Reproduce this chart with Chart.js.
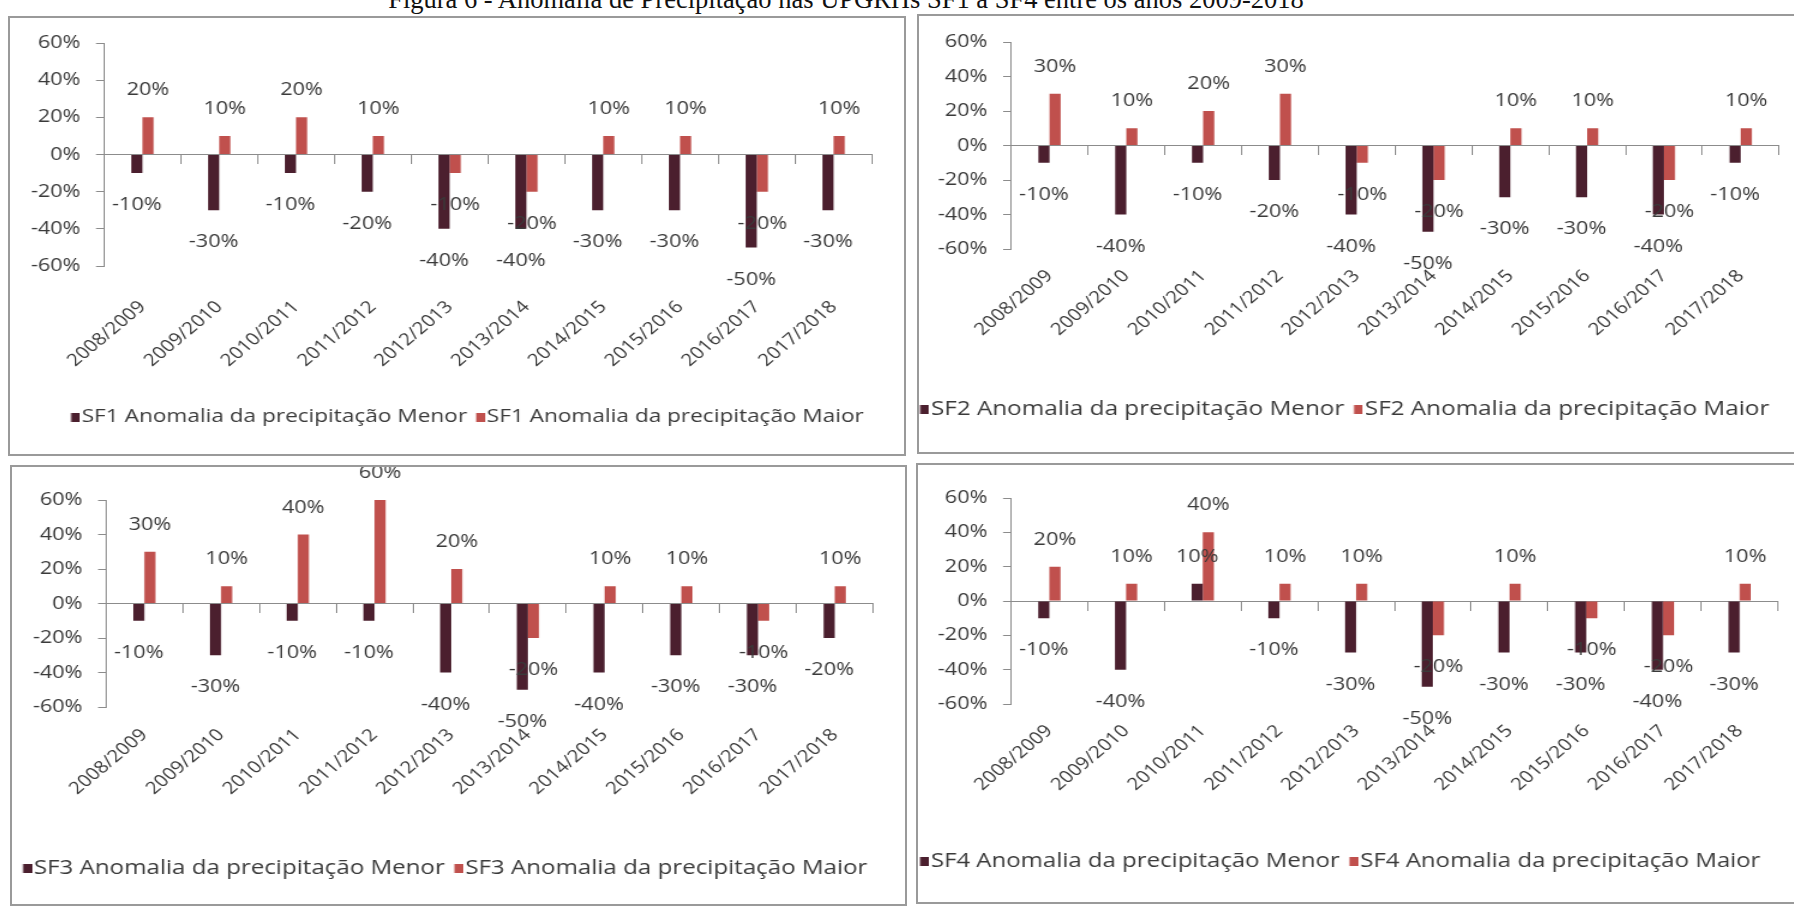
<!DOCTYPE html>
<html lang="pt">
<head>
<meta charset="utf-8">
<title>Anomalia de Precipitação SF1 a SF4</title>
<script src="https://cdn.jsdelivr.net/npm/chart.js@4.4.1/dist/chart.umd.min.js"></script>
<style>
  html, body { margin: 0; padding: 0; background: #ffffff; width: 1794px; height: 906px; overflow: hidden; position: relative; }
  #title { position: absolute; top: -14px; left: 846px; transform: translateX(-50%); white-space: nowrap;
           font: 26.5px/26px "Liberation Serif", "Times New Roman", serif; color: #111; }
  .frame { position: absolute; box-sizing: border-box; border: 2px solid #9a9a9a; background: #fff; }
  .holder { position: absolute; transform-origin: 0 0; }
  .holder canvas { display: block; }
</style>
</head>
<body>
<div id="title">Figura 6 - Anomalia de Precipitação nas UPGRHs SF1 a SF4 entre os anos 2009-2018</div>
<script>
// Hydrological years on the category axis
const categories = ['2008/2009', '2009/2010', '2010/2011', '2011/2012', '2012/2013',
                    '2013/2014', '2014/2015', '2015/2016', '2016/2017', '2017/2018'];

// Precipitation anomaly (%) per UPGRH: smaller and larger anomaly
const sf1Menor = [-10, -30, -10, -20, -40, -40, -30, -30, -50, -30];
const sf1Maior = [ 20,  10,  20,  10, -10, -20,  10,  10, -20,  10];
const sf2Menor = [-10, -40, -10, -20, -40, -50, -30, -30, -40, -10];
const sf2Maior = [ 30,  10,  20,  30, -10, -20,  10,  10, -20,  10];
const sf3Menor = [-10, -30, -10, -10, -40, -50, -40, -30, -30, -20];
const sf3Maior = [ 30,  10,  40,  60,  20, -20,  10,  10, -10,  10];
const sf4Menor = [-10, -40,  10, -10, -30, -50, -30, -30, -40, -30];
const sf4Maior = [ 20,  10,  40,  10,  10, -20,  10, -10, -20,  10];

// Value axis ticks (%)
const yTicks = [-60, -40, -20, 0, 20, 40, 60];

const seriesNames = ['Anomalia da precipitação Menor', 'Anomalia da precipitação Maior'];
const regions = [
  { code: 'SF1', menor: sf1Menor, maior: sf1Maior },
  { code: 'SF2', menor: sf2Menor, maior: sf2Maior },
  { code: 'SF3', menor: sf3Menor, maior: sf3Maior },
  { code: 'SF4', menor: sf4Menor, maior: sf4Maior }
];

// ---- presentation ----
const COLOR_MENOR = '#4b1f2e';
const COLOR_MAIOR = '#c0504d';
const AXIS_COLOR = '#8c8c8c';
const TEXT_COLOR = '#3a3a3a';
const FONT = '"Open Sans", "DejaVu Sans", sans-serif';
const SX = 1.2;          // horizontal stretch applied to every chart canvas
const LEG_PAD = 6;
const PAD_LEFT = -40;    // extra room on the left so the legend row never wraps
const BORDER = 2;
const SWATCH_W = 9 / SX, SWATCH_H = 9, SWATCH_GAP = 2 / SX;

// page geometry of each panel: frame box, plot box, legend start / middle line
const panelLayout = [
  { frame: [8, 16, 906, 456],     plot: [104, 43, 872, 266],   legendLeft: 71,  legendMid: 417, legendSize: 18.85, xPad: 31 },
  { frame: [917, 14, 1800, 454],  plot: [1011, 42, 1778, 249], legendLeft: 920, legendMid: 409, legendSize: 20.2,  xPad: 17 },
  { frame: [10, 465, 907, 906],   plot: [106, 500, 873, 707],  legendLeft: 23,  legendMid: 868, legendSize: 20.1,  xPad: 18 },
  { frame: [916, 463, 1800, 904], plot: [1011, 498, 1778, 704], legendLeft: 920, legendMid: 861, legendSize: 20.0,  xPad: 17 }
];

Chart.defaults.font.family = FONT;
Chart.defaults.font.size = 18;
Chart.defaults.color = TEXT_COLOR;
Chart.defaults.animation = false;

// square legend swatch sitting right next to its text
function makeSwatch(color, fs) {
  const c = document.createElement('canvas');
  const w = Math.round(1 + fs - 2 * SWATCH_GAP);
  c.width = w; c.height = SWATCH_H;
  const g = c.getContext('2d');
  g.fillStyle = color;
  g.fillRect(w - SWATCH_W, 0, SWATCH_W, SWATCH_H);
  return c;
}

// value labels above positive bars and below negative bars
const valueLabels = {
  id: 'valueLabels',
  afterDatasetsDraw(chart) {
    const ctx = chart.ctx;
    ctx.save();
    ctx.font = '18px ' + FONT;
    ctx.fillStyle = TEXT_COLOR;
    ctx.textAlign = 'center';
    ctx.textBaseline = 'middle';
    chart.data.datasets.forEach((ds, i) => {
      chart.getDatasetMeta(i).data.forEach((bar, j) => {
        const v = ds.data[j];
        const y = v >= 0 ? bar.y - 27 : bar.y + 32;
        ctx.fillText(v + '%', bar.x, y);
      });
    });
    ctx.restore();
  }
};

// places the legend row at a given horizontal start
const legendPlacement = {
  id: 'legendPlacement',
  afterLayout(chart, args, opts) {
    const lg = chart.legend;
    if (!lg || opts.left == null) return;
    const w = lg.right - lg.left;
    lg.left = opts.left;
    lg.right = opts.left + w;
  }
};

regions.forEach((reg, k) => {
  const L = panelLayout[k];
  const frame = document.createElement('div');
  frame.className = 'frame';
  frame.style.left = L.frame[0] + 'px';
  frame.style.top = L.frame[1] + 'px';
  frame.style.width = (L.frame[2] - L.frame[0]) + 'px';
  frame.style.height = (L.frame[3] - L.frame[1]) + 'px';
  document.body.appendChild(frame);

  const innerL = L.frame[0] + BORDER, innerT = L.frame[1] + BORDER;
  const W = (L.frame[2] - BORDER - innerL) / SX + 40;
  const H = L.frame[3] - BORDER - innerT;
  const plotL = (L.plot[0] - innerL) / SX, plotR = (L.plot[2] - innerL) / SX;
  const plotT = L.plot[1] - innerT, plotB = L.plot[3] - innerT;
  const fs = L.legendSize;
  const padB = H - 10 - fs / 2 - (L.legendMid - innerT);
  const legendTop = H - padB - (fs + LEG_PAD + 10);
  const xAxisH = legendTop - plotB;

  const swatches = [makeSwatch(COLOR_MENOR, fs), makeSwatch(COLOR_MAIOR, fs)];
  const swW = swatches[0].width;
  // legend box left so that the first swatch starts at legendLeft
  const legendBoxLeft = (L.legendLeft - innerL) / SX - LEG_PAD - 0.5 - swW / 2 + SWATCH_W;

  const holder = document.createElement('div');
  holder.className = 'holder';
  holder.style.left = innerL + 'px';
  holder.style.top = innerT + 'px';
  holder.style.width = W + 'px';
  holder.style.height = H + 'px';
  holder.style.transform = 'scaleX(' + SX + ')';
  const canvas = document.createElement('canvas');
  holder.appendChild(canvas);
  document.body.appendChild(holder);

  new Chart(canvas, {
    type: 'bar',
    data: {
      labels: categories,
      datasets: [
        { label: reg.code + ' ' + seriesNames[0], data: reg.menor, backgroundColor: COLOR_MENOR, xAxisID: 'x', yAxisID: 'y' },
        { label: reg.code + ' ' + seriesNames[1], data: reg.maior, backgroundColor: COLOR_MAIOR, xAxisID: 'x', yAxisID: 'y' }
      ]
    },
    options: {
      responsive: true,
      maintainAspectRatio: false,
      devicePixelRatio: 1,
      categoryPercentage: 0.29,
      barPercentage: 1.0,
      layout: { padding: { left: PAD_LEFT, right: W - plotR, top: plotT, bottom: padB } },
      plugins: {
        legend: {
          position: 'bottom',
          align: 'start',
          labels: {
            usePointStyle: true, pointStyleWidth: 1, boxHeight: SWATCH_H,
            padding: LEG_PAD, color: TEXT_COLOR, font: { size: fs, family: FONT },
            generateLabels(chart) {
              const items = Chart.defaults.plugins.legend.labels.generateLabels(chart);
              items.forEach((it, i) => { it.pointStyle = swatches[i]; });
              return items;
            }
          }
        },
        legendPlacement: { left: legendBoxLeft },
        tooltip: { enabled: false }
      },
      scales: {
        x: {
          type: 'category',
          position: 'bottom',
          offset: true,
          grid: { display: false, drawTicks: false },
          border: { display: false },
          ticks: { autoSkip: false, maxRotation: 45, minRotation: 45, padding: L.xPad,
                    font: { size: 17 }, color: TEXT_COLOR },
          afterFit(s) { s.height = xAxisH; }
        },
        x2: {
          type: 'category',
          axis: 'x',
          position: { y: 0 },
          offset: true,
          grid: { display: true, offset: true, drawOnChartArea: false, drawTicks: true, tickLength: 9, color: AXIS_COLOR },
          border: { display: true, color: AXIS_COLOR, width: 1 },
          ticks: { display: false },
          afterFit(s) { s.height = 0; }
        },
        y: {
          type: 'linear',
          position: 'left',
          min: yTicks[0],
          max: yTicks[yTicks.length - 1],
          afterBuildTicks(s) { s.ticks = yTicks.map(v => ({ value: v })); },
          grid: { drawOnChartArea: false, drawTicks: true, tickLength: 8 / SX, color: AXIS_COLOR },
          border: { display: true, color: AXIS_COLOR, width: 1 },
          ticks: { padding: 13, color: TEXT_COLOR, font: { size: 18 }, callback: v => v + '%' },
          afterFit(s) { s.width = plotL - PAD_LEFT; }
        }
      }
    },
    plugins: [valueLabels, legendPlacement]
  });
});
</script>
</body>
</html>
